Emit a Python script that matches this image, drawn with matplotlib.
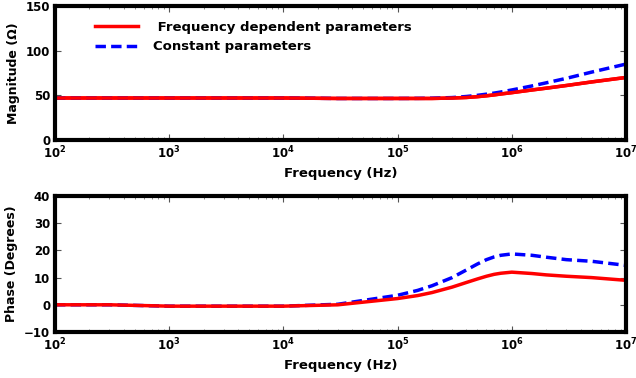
import matplotlib
matplotlib.use("Agg")
from matplotlib import pyplot as plt
from matplotlib.ticker import LogLocator
import numpy as np

# frequency points (Hz)
freq = [1e2, 3e2, 1e3, 3e3, 1e4, 3e4, 1e5, 1.5e5, 2e5, 3e5, 4e5, 5e5, 6e5, 7e5, 8e5,
        1e6, 1.5e6, 2e6, 3e6, 5e6, 1e7]

mag_fd = [47, 47, 47, 47, 47, 46.5, 46.5, 46.5, 46.5, 47, 47.6, 48.5, 49.5, 50.5, 51.5,
          53, 56, 58, 61, 65, 70]
mag_cp = [47, 47, 47, 47, 47, 46.5, 46.5, 46.6, 46.8, 47.5, 48.7, 50, 51.3, 52.5, 53.7,
          56, 60.5, 64, 69, 76, 85]

ph_fd = [0, 0, -0.5, -0.5, -0.5, 0, 2.3, 3.4, 4.5, 6.5, 8.2, 9.5, 10.5, 11.2, 11.6,
         12, 11.5, 11, 10.5, 10, 9]
ph_cp = [0, 0, -0.5, -0.5, -0.5, 0.2, 3.5, 5.3, 7, 10, 12.8, 15, 16.6, 17.6, 18.2,
         18.7, 18.2, 17.5, 16.6, 16, 14.5]

plt.rcParams["font.family"] = "DejaVu Sans"
plt.rcParams["font.weight"] = "bold"

fig = plt.figure(figsize=(6.36, 3.78), dpi=100)
ax1 = fig.add_axes([55/636, 1-140/378, 571/636, 134/378])
ax2 = fig.add_axes([55/636, 1-332/378, 571/636, 136/378])

ax1.semilogx(freq, mag_fd, color="red", lw=2.5, label=" Frequency dependent parameters")
ax1.semilogx(freq, mag_cp, color="blue", lw=2.5, ls=(0, (3, 1.5)), label="Constant parameters")
ax1.plot(freq, mag_fd, color="red", lw=2.5)  # red on top
ax1.set_ylim(0, 150)
ax1.set_yticks([0, 50, 100, 150])
ax1.set_ylabel("Magnitude (\u03a9)", fontsize=9, fontweight="bold")
ax1.legend(loc="upper left", bbox_to_anchor=(0.05, 0.98), frameon=False,
           fontsize=9.5, handlelength=3.2, handletextpad=1.2, labelspacing=0.5)

ax2.semilogx(freq, ph_cp, color="blue", lw=2.5, ls=(0, (3, 1.5)))
ax2.semilogx(freq, ph_fd, color="red", lw=2.5)
ax2.set_ylim(-10, 40)
ax2.set_yticks([-10, 0, 10, 20, 30, 40])
ax2.set_ylabel("Phase (Degrees)", fontsize=9, fontweight="bold")

for ax in (ax1, ax2):
    ax.set_xlim(1e2, 1e7)
    ax.set_xlabel("Frequency (Hz)", fontsize=9.5, fontweight="bold")
    ax.xaxis.set_minor_locator(LogLocator(base=10, subs=np.arange(2, 10), numticks=20))
    ax.tick_params(which="both", direction="in", top=True, right=True, labelsize=8.5)
    ax.tick_params(which="major", length=4, color="#555555")
    ax.tick_params(which="minor", length=2, color="#777777")
    for s in ax.spines.values():
        s.set_linewidth(3)
    for lab in ax.get_xticklabels() + ax.get_yticklabels():
        lab.set_fontweight("bold")

plt.savefig("out.png", dpi=100)
